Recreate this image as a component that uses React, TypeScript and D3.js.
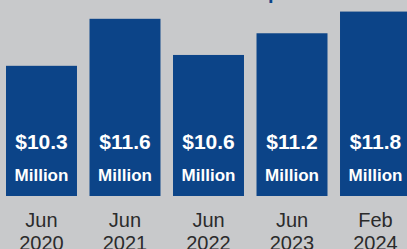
import React from "react";
import * as d3 from "d3";

const categories = ["Jun 2020", "Jun 2021", "Jun 2022", "Jun 2023", "Feb 2024"];
const values = [10.3, 11.6, 10.6, 11.2, 11.8];
const valueLabels = ["$10.3", "$11.6", "$10.6", "$11.2", "$11.8"];
const unitLabel = "Million";

const W = 407;
const H = 249;

export default function App() {
  const x = d3.scaleBand<string>().domain(categories).range([6, 411]).paddingInner(0.15).paddingOuter(0);
  const baseline = 196;
  const y = d3.scaleLinear().domain([6.7, 12.12]).range([baseline, 0]);
  const font = "'Liberation Sans', Arial, Helvetica, sans-serif";
  return (
    <div style={{ position: "fixed", left: 0, top: 0, width: W, height: H }}>
      <svg width={W} height={H} style={{ display: "block" }}>
        <rect x={0} y={0} width={W} height={H} fill="#c8c9cb" />
        <text x={268} y={-1} fontFamily={font} fontWeight="bold" fontSize={20} fill="#0c4488">p</text>
        {categories.map((c, i) => {
          const bx = x(c)!;
          const bw = x.bandwidth();
          const cx = bx + bw / 2;
          const [l1, l2] = c.split(" ");
          return (
            <g key={c}>
              <rect x={bx} y={y(values[i])} width={bw} height={baseline - y(values[i])} fill="#0c4488" />
              <text x={cx} y={baseline - 47.5} textAnchor="middle" fontFamily={font} fontWeight="bold" fontSize={21} fill="#ffffff">{valueLabels[i]}</text>
              <text x={cx} y={baseline - 15.5} textAnchor="middle" fontFamily={font} fontWeight="bold" fontSize={17} fill="#ffffff">{unitLabel}</text>
              <text x={cx} y={226.5} textAnchor="middle" fontFamily={font} fontSize={20} fill="#2b2b2b">{l1}</text>
              <text x={cx} y={249.5} textAnchor="middle" fontFamily={font} fontSize={20} fill="#2b2b2b">{l2}</text>
            </g>
          );
        })}
      </svg>
    </div>
  );
}
